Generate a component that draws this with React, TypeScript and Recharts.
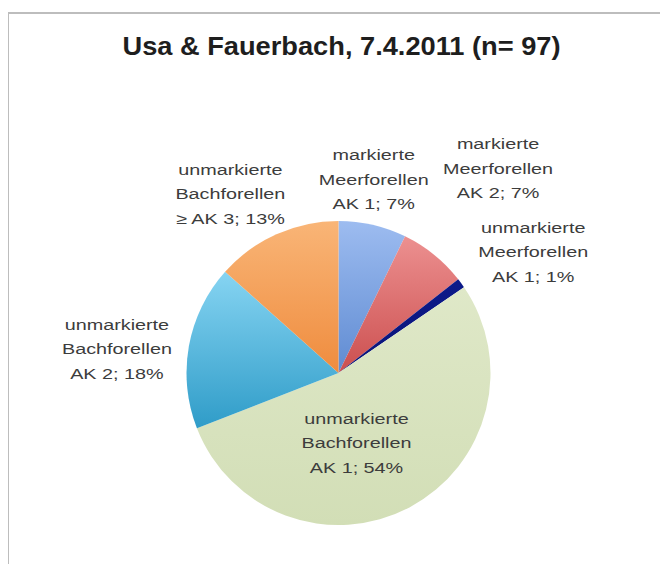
import { PieChart, Pie, Cell } from 'recharts'

const total = 97
const markings = ['markierte', 'markierte', 'unmarkierte', 'unmarkierte', 'unmarkierte', 'unmarkierte']
const species = ['Meerforellen', 'Meerforellen', 'Meerforellen', 'Bachforellen', 'Bachforellen', 'Bachforellen']
const ageClasses = ['AK 1', 'AK 2', 'AK 1', 'AK 1', 'AK 2', '≥ AK 3']
const counts = [7, 7, 1, 52, 17, 13]

const gradients = [
  ['#9dbcf0', '#5f8bd2'],
  ['#ec9090', '#cc4f4f'],
  ['#0c1a8a', '#0a1478'],
  ['#dfe8c8', '#d2deb6'],
  ['#86d4f2', '#2f9cc8'],
  ['#f9b577', '#ef8c3e'],
]
// label anchor offsets from the slice's outer edge point
const labelOffsets = [
  { dx: 1, dy: -40 },
  { dx: 64, dy: -81 },
  { dx: 72, dy: -26 },
  { dx: -53, dy: -59 },
  { dx: -72, dy: 8 },
  { dx: -46, dy: -35 },
]

const data = counts.map((value, i) => ({
  name: `${markings[i]} ${species[i]} ${ageClasses[i]}`,
  value,
}))

const RAD = Math.PI / 180
const font = '"Liberation Sans", Arial, Helvetica, sans-serif'

function renderLabel(props: any) {
  const { cx, cy, midAngle, outerRadius, index, value } = props
  const x = cx + outerRadius * Math.cos(-midAngle * RAD) + labelOffsets[index].dx
  const y = cy + outerRadius * Math.sin(-midAngle * RAD) + labelOffsets[index].dy
  const pct = Math.round((value / total) * 100)
  return (
    <g transform={`translate(${x},${y}) scale(1.32,1)`}>
      <text textAnchor="middle" fontSize={15} fontFamily={font} fill="#3c3c3c">
        <tspan x={0} y={-24.5}>{markings[index]}</tspan>
        <tspan x={0} y={0}>{species[index]}</tspan>
        <tspan x={0} y={24.5}>{`${ageClasses[index]}; ${pct}%`}</tspan>
      </text>
    </g>
  )
}

export default function App() {
  return (
    <div style={{ position: 'relative', width: 660, height: 556, overflow: 'hidden', background: '#fff' }}>
      <div
        style={{
          position: 'absolute',
          left: -1,
          top: 4,
          width: 700,
          height: 600,
          borderTop: '2px solid #bdbdbd',
          borderLeft: '2px solid #bdbdbd',
        }}
      />
      <svg width={660} height={556} style={{ position: 'absolute', left: 0, top: 0 }}>
        <g transform="translate(333.5,47) scale(1.09,1)">
          <text textAnchor="middle" fontSize={25} fontWeight="bold" fontFamily={font} fill="#1e1e1e">
            Usa &amp; Fauerbach, 7.4.2011 (n= 97)
          </text>
        </g>
      </svg>
      <div style={{ position: 'absolute', left: 0, top: 0 }}>
        <PieChart width={660} height={556}>
          <defs>
            {gradients.map((g, i) => (
              <linearGradient key={i} id={`grad${i}`} x1="0" y1="0" x2="0" y2="1">
                <stop offset="0%" stopColor={g[0]} />
                <stop offset="100%" stopColor={g[1]} />
              </linearGradient>
            ))}
          </defs>
          <Pie
            data={data}
            dataKey="value"
            nameKey="name"
            cx={325.5}
            cy={360}
            outerRadius={152}
            startAngle={90}
            endAngle={-270}
            stroke="none"
            label={renderLabel}
            labelLine={false}
            isAnimationActive={false}
          >
            {data.map((d, i) => (
              <Cell key={d.name + i} fill={`url(#grad${i})`} />
            ))}
          </Pie>
        </PieChart>
      </div>
    </div>
  )
}
